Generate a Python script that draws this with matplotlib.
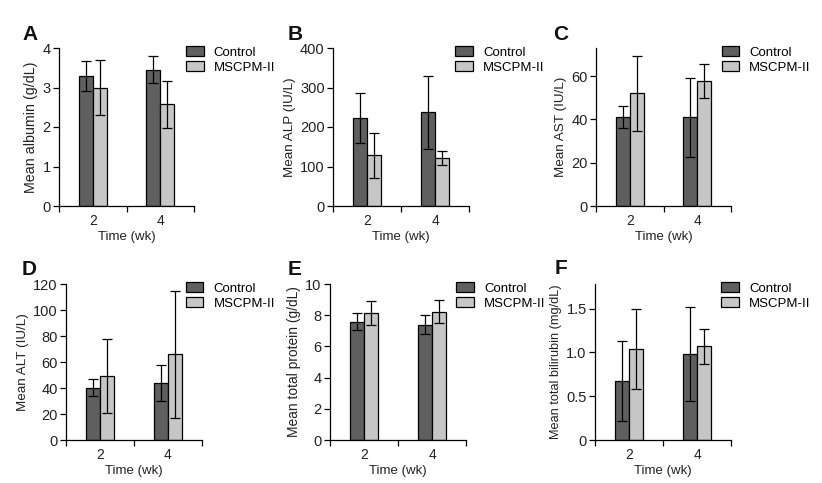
import matplotlib
matplotlib.use("Agg")
import matplotlib.pyplot as plt
from matplotlib.patches import Patch

plt.rcParams['font.family'] = ['Liberation Sans', 'DejaVu Sans']

weeks = ['2', '4']
groups = ['Control', 'MSCPM-II']

albumin_ctrl = [3.28, 3.45]
albumin_ctrl_err = [0.38, 0.34]
albumin_mscpm = [3.00, 2.57]
albumin_mscpm_err = [0.70, 0.60]

alp_ctrl = [222, 237]
alp_ctrl_err = [63, 92]
alp_mscpm = [128, 121]
alp_mscpm_err = [57, 18]

ast_ctrl = [41.0, 41.0]
ast_ctrl_err = [5.0, 18.2]
ast_mscpm = [52.0, 57.7]
ast_mscpm_err = [17.4, 8.0]

alt_ctrl = [40.2, 43.8]
alt_ctrl_err = [6.5, 14.0]
alt_mscpm = [49.0, 66.0]
alt_mscpm_err = [28.5, 49.0]

tp_ctrl = [7.58, 7.39]
tp_ctrl_err = [0.56, 0.60]
tp_mscpm = [8.15, 8.22]
tp_mscpm_err = [0.75, 0.75]

bil_ctrl = [0.67, 0.98]
bil_ctrl_err = [0.455, 0.54]
bil_mscpm = [1.04, 1.07]
bil_mscpm_err = [0.46, 0.20]

panels = [
    dict(letter='A', ylabel='Mean albumin (g/dL)', ctrl=albumin_ctrl, ce=albumin_ctrl_err,
         ms=albumin_mscpm, me=albumin_mscpm_err, ylim=4, ticks=[0, 1, 2, 3, 4],
         labels=['0', '1', '2', '3', '4'], rect=[59, 48, 135, 158], lx=0.94, letpos=(22, 40), yfs=10.3),
    dict(letter='B', ylabel='Mean ALP (IU/L)', ctrl=alp_ctrl, ce=alp_ctrl_err,
         ms=alp_mscpm, me=alp_mscpm_err, ylim=400, ticks=[0, 100, 200, 300, 400],
         labels=['0', '100', '200', '300', '400'], rect=[333, 48, 136, 158], lx=0.90, letpos=(288, 40), yfs=9.7),
    dict(letter='C', ylabel='Mean AST (IU/L)', ctrl=ast_ctrl, ce=ast_ctrl_err,
         ms=ast_mscpm, me=ast_mscpm_err, ylim=73, ticks=[0, 20, 40, 60],
         labels=['0', '20', '40', '60'], rect=[596, 48, 135, 158], lx=0.93, letpos=(553, 40), yfs=9.7),
    dict(letter='D', ylabel='Mean ALT (IU/L)', ctrl=alt_ctrl, ce=alt_ctrl_err,
         ms=alt_mscpm, me=alt_mscpm_err, ylim=120, ticks=[0, 20, 40, 60, 80, 100, 120],
         labels=['0', '20', '40', '60', '80', '100', '120'], rect=[66, 284, 136, 156], lx=0.88, letpos=(22, 275), yfs=9.7),
    dict(letter='E', ylabel='Mean total protein (g/dL)', ctrl=tp_ctrl, ce=tp_ctrl_err,
         ms=tp_mscpm, me=tp_mscpm_err, ylim=10, ticks=[0, 2, 4, 6, 8, 10],
         labels=['0', '2', '4', '6', '8', '10'], rect=[330, 284, 136, 156], lx=0.93, letpos=(288, 275), yfs=9.9),
    dict(letter='F', ylabel='Mean total bilirubin (mg/dL)', ctrl=bil_ctrl, ce=bil_ctrl_err,
         ms=bil_mscpm, me=bil_mscpm_err, ylim=1.78, ticks=[0, 0.5, 1.0, 1.5],
         labels=['0', '0.5', '1.0', '1.5'], rect=[595, 284, 136, 156], lx=0.93, letpos=(555, 274), yfs=9.2),
]

W, H = 822, 483
fig = plt.figure(figsize=(W / 100, H / 100), dpi=100)

c_dark = '#5f5f5f'
c_light = '#c6c6c6'
fs = 9.5
fs_tick = 10.5
bw = 0.21
xs = [0, 1]

for p in panels:
    l, t, w, h = p['rect']
    ax = fig.add_axes([l / W, 1 - (t + h) / H, w / W, h / H])
    xc = [x - bw / 2 for x in xs]
    xm = [x + bw / 2 for x in xs]
    ax.bar(xc, p['ctrl'], bw, color=c_dark, edgecolor='black', linewidth=0.9, zorder=2)
    ax.bar(xm, p['ms'], bw, color=c_light, edgecolor='black', linewidth=0.9, zorder=2)
    ax.errorbar(xc, p['ctrl'], yerr=p['ce'], fmt='none', ecolor='black', elinewidth=0.9,
                capsize=3.3, capthick=0.9, zorder=3)
    ax.errorbar(xm, p['ms'], yerr=p['me'], fmt='none', ecolor='black', elinewidth=0.9,
                capsize=3.3, capthick=0.9, zorder=3)
    ax.set_xlim(-0.5, 1.5)
    ax.set_ylim(0, p['ylim'])
    ax.set_yticks(p['ticks'])
    ax.set_yticklabels(p['labels'])
    ax.set_xticks(xs)
    ax.set_xticklabels(weeks)
    ax.set_xticks([-0.5, 0.5, 1.5], minor=True)
    ax.tick_params(axis='x', which='major', length=0, pad=6, labelsize=10, labelcolor='#222222')
    ax.tick_params(axis='x', which='minor', length=4, width=0.9, direction='out')
    ax.tick_params(axis='y', length=4, width=0.9, direction='out', labelsize=fs_tick, labelcolor='#222222', pad=2)
    for s in ['top', 'right']:
        ax.spines[s].set_visible(False)
    for s in ['left', 'bottom']:
        ax.spines[s].set_linewidth(0.9)
    ax.set_xlabel('Time (wk)', fontsize=fs, color='#222222', labelpad=2)
    ax.set_ylabel(p['ylabel'], fontsize=p['yfs'], color='#222222', labelpad=3)
    handles = [Patch(facecolor=c_dark, edgecolor='black', linewidth=0.9),
               Patch(facecolor=c_light, edgecolor='black', linewidth=0.9)]
    ax.legend(handles, groups, loc='upper left', bbox_to_anchor=(p['lx'], 1.01),
              frameon=False, fontsize=fs, borderaxespad=0, borderpad=0,
              handlelength=1.35, handleheight=0.7, handletextpad=0.75, labelspacing=0.2)
    lx, ly = p['letpos']
    fig.text(lx / W, 1 - ly / H, p['letter'], fontsize=15, fontweight='bold',
             ha='left', va='baseline', color='#111111')

fig.savefig('out.png', dpi=100)
